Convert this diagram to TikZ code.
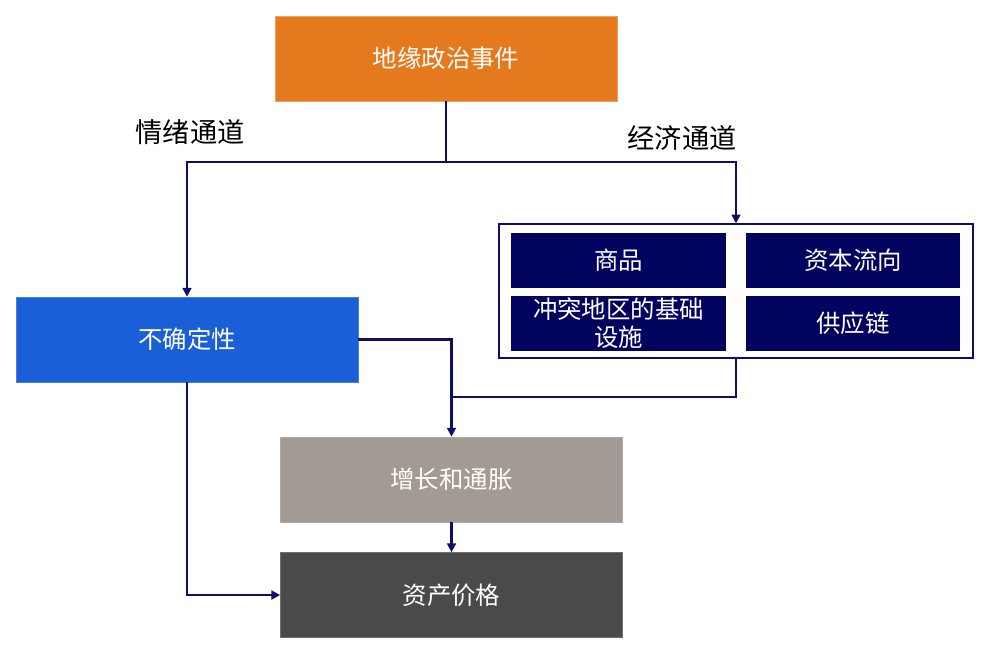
\documentclass[tikz,border=0pt]{standalone}
\usepackage{fontspec}
\setmainfont{Noto Sans CJK SC}
\usepackage{xcolor}
\definecolor{eventorange}{HTML}{E4791E}
\definecolor{uncertblue}{HTML}{1A5FD8}
\definecolor{growthgray}{HTML}{A39A93}
\definecolor{assetgray}{HTML}{4A4A4B}
\definecolor{cellnavy}{HTML}{02035E}
\definecolor{linknavy}{HTML}{0D0D6B}
\usetikzlibrary{arrows.meta,positioning}

\begin{document}
\begin{tikzpicture}[x=0.02cm, y=-0.02cm,
    box/.style={minimum width=6.84cm, minimum height=1.7cm, inner sep=0pt,
      text=white, font=\fontsize{13.9}{16}\selectfont},
    cell/.style={fill=cellnavy, minimum width=4.3cm, minimum height=1.1cm, inner sep=0pt,
      text=white, align=center, font=\fontsize{13.9}{16}\selectfont},
    channel/.style={font=\fontsize{15.5}{18}\selectfont, text=black},
    link/.style={draw=linknavy, line width=1.4pt},
    flow/.style={link, -{Triangle[length=5pt, width=5pt]}}]
        \useasboundingbox (0,0) rectangle (989,654);
        % event and the two channels it feeds
        \node[box, fill=eventorange, draw=eventorange!70!white, thin] (event) at (446,58.5) {地缘政治事件};
        \node[channel] (moodlbl) at (190,132) {情绪通道};
        \node[channel] (econlbl) at (682,138) {经济通道};
        \node[box, fill=uncertblue, draw=uncertblue!80!white, thin] (uncert) at (187,339.5) {不确定性};

        % economic channel block
        \node[draw=linknavy, fill=white, line width=0.8pt, minimum width=9.48cm, minimum height=2.68cm] (channels) at (736,291) {};
        \node[cell] (goods) at (618.5,260.5) {商品};
        \node[cell] (capital) at (853,260.5) {资本流向};
        \node[cell] (infra) at (618.5,323) {冲突地区的基础\\设施};
        \node[cell] (supply) at (853,323) {供应链};

        % macro and asset boxes
        \node[box, fill=growthgray, draw=growthgray!85!white, thin] (growth) at (451.5,479.5) {增长和通胀};
        \node[box, fill=assetgray, draw=assetgray!80!white, thin] (asset) at (451.5,595) {资产价格};

        \coordinate (split) at (446,162);
        \coordinate (join) at (451.5,397);

        \draw[link] (event.south) -- (split);
        \draw[flow] (split) -| (uncert.north);
        \draw[flow] (split) -| (channels.north);
        \draw[flow] (uncert.east) -| (growth.north);
        \draw[link] (channels.south) |- (join);
        \draw[flow] (growth.south) -- (asset.north);
        \draw[flow] (uncert.south) |- (asset.west);
\end{tikzpicture}
\end{document}
